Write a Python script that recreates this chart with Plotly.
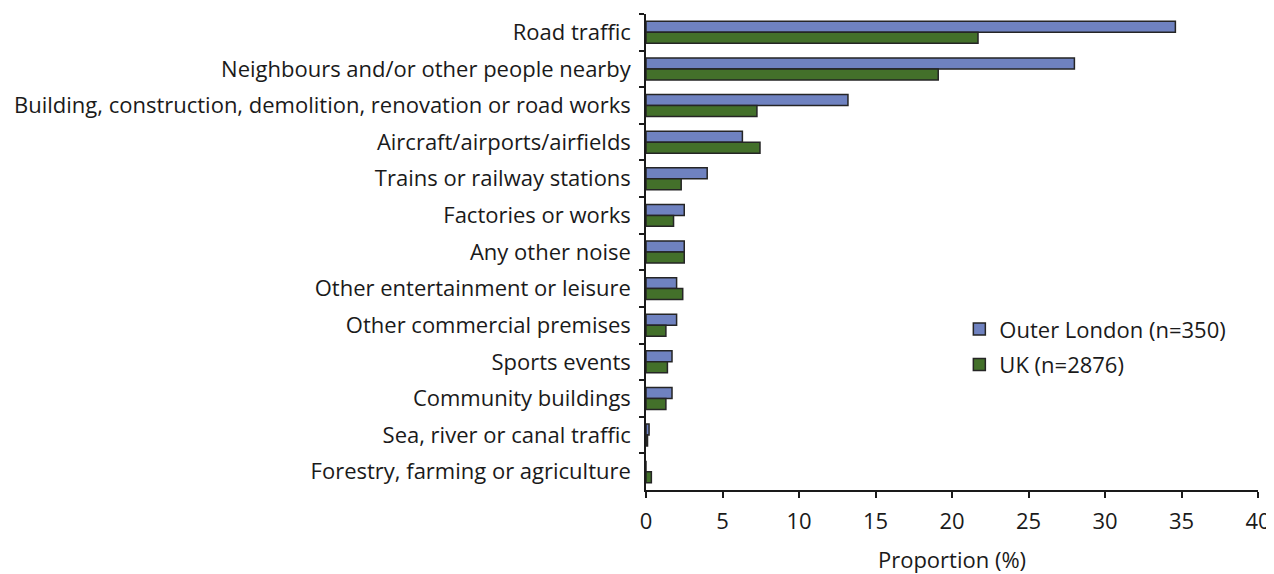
import plotly.graph_objects as go

categories = [
    "Road traffic",
    "Neighbours and/or other people nearby",
    "Building, construction, demolition, renovation or road works",
    "Aircraft/airports/airfields",
    "Trains or railway stations",
    "Factories or works",
    "Any other noise",
    "Other entertainment or leisure",
    "Other commercial premises",
    "Sports events",
    "Community buildings",
    "Sea, river or canal traffic",
    "Forestry, farming or agriculture",
]
outer_london = [34.6, 28.0, 13.2, 6.3, 4.0, 2.5, 2.5, 2.0, 2.0, 1.7, 1.7, 0.2, 0.0]
uk = [21.7, 19.1, 7.25, 7.45, 2.3, 1.8, 2.5, 2.4, 1.3, 1.4, 1.3, 0.1, 0.35]
x_ticks = [0, 5, 10, 15, 20, 25, 30, 35, 40]

FONT = "Open Sans"
fig = go.Figure()
fig.add_trace(go.Bar(
    y=categories, x=outer_london, orientation="h", name="Outer London (n=350)",
    legendgroup="a",
    marker=dict(color="#6f82c0", line=dict(color="#252525", width=1.5)),
))
fig.add_trace(go.Bar(
    y=categories, x=uk, orientation="h", name="UK (n=2876)",
    legendgroup="b",
    marker=dict(color="#43702a", line=dict(color="#252525", width=1.5)),
))

# page body adds an 8px offset; size the figure to compensate
fig.update_layout(
    width=1266, height=566,
    margin=dict(l=638, r=16, t=6, b=84, autoexpand=False),
    plot_bgcolor="white", paper_bgcolor="white",
    barmode="group", bargap=0.4, bargroupgap=0,
    font=dict(family=FONT, size=22, color="#1a1a1a"),
    legend=dict(x=0.512, y=0.382, xanchor="left", yanchor="top",
                font=dict(size=22), bgcolor="rgba(0,0,0,0)",
                traceorder="grouped", tracegroupgap=4),
    showlegend=True,
)
fig.update_xaxes(
    range=[0, 40], tickvals=x_ticks, ticktext=[str(v) for v in x_ticks],
    showgrid=False, zeroline=False, showline=True, linecolor="#1a1a1a", linewidth=1.5,
    ticks="outside", ticklen=6, tickwidth=1.5, tickcolor="#1a1a1a",
    title=dict(text="Proportion (%)", standoff=18, font=dict(size=22)),
    tickfont=dict(size=22), ticklabelstandoff=5, automargin=False,
)
fig.update_yaxes(
    autorange="reversed", showgrid=False, zeroline=False,
    showline=True, linecolor="#1a1a1a", linewidth=1.5,
    ticks="outside", ticklen=5, tickwidth=1.5, tickcolor="#1a1a1a",
    tickson="boundaries", tickfont=dict(size=22), ticklabelstandoff=9,
    automargin=False,
)
fig.write_html("out.html")
